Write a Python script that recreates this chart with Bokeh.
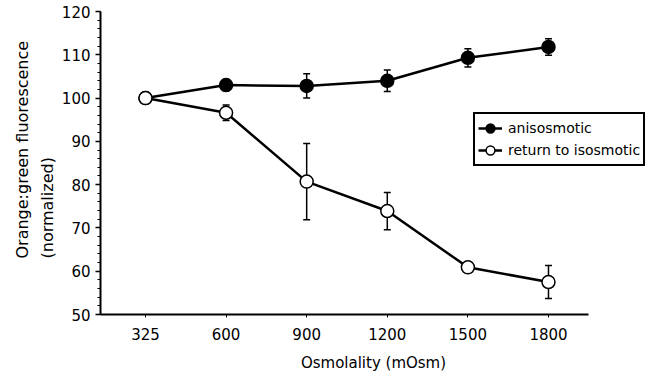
from bokeh.plotting import figure
from bokeh.models import (Range1d, FixedTicker, ColumnDataSource, Whisker, TeeHead,
                          Legend, LegendItem, Title)
from bokeh.embed import file_html
from bokeh.resources import INLINE

categories = ["325", "600", "900", "1200", "1500", "1800"]
aniso = [100, 103.0, 102.8, 104.0, 109.3, 111.8]
aniso_err = [0, 1.3, 2.8, 2.5, 2.1, 1.9]
iso = [100, 96.6, 80.7, 73.9, 60.9, 57.5]
iso_err = [0, 1.8, 8.8, 4.3, 0.8, 3.8]
y_ticks = [50, 60, 70, 80, 90, 100, 110, 120]

FONT = "DejaVu Sans"
xs = list(range(len(categories)))

p = figure(width=646, height=381, output_backend="svg", toolbar_location=None,
           x_range=Range1d(-0.558, 6.216), y_range=Range1d(50, 120),
           min_border_left=100, min_border_right=0, min_border_top=11, min_border_bottom=67)
p.grid.visible = False
p.outline_line_color = None
p.background_fill_color = "white"

a_src = ColumnDataSource(dict(x=xs, y=aniso,
                              lo=[v - e for v, e in zip(aniso, aniso_err)],
                              hi=[v + e for v, e in zip(aniso, aniso_err)]))
i_src = ColumnDataSource(dict(x=xs, y=iso,
                              lo=[v - e for v, e in zip(iso, iso_err)],
                              hi=[v + e for v, e in zip(iso, iso_err)]))

for src in (a_src, i_src):
    w = Whisker(base="x", lower="lo", upper="hi", source=src, line_color="black", line_width=1.5,
                lower_head=TeeHead(size=7, line_width=1.5, line_color="black"),
                upper_head=TeeHead(size=7, line_width=1.5, line_color="black"))
    p.add_layout(w)

a_line = p.line("x", "y", source=a_src, line_color="black", line_width=2.5)
i_line = p.line("x", "y", source=i_src, line_color="black", line_width=2.5)
a_pts = p.scatter("x", "y", source=a_src, marker="circle", size=13,
                  fill_color="black", line_color="black", line_width=1.5)
i_pts = p.scatter("x", "y", source=i_src, marker="circle", size=13,
                  fill_color="white", line_color="black", line_width=1.5)

# axes
xa = p.xaxis[0]
xa.ticker = FixedTicker(ticks=xs)
xa.bounds = (-0.558, 5.496)
xa.major_label_overrides = {i: c for i, c in enumerate(categories)}
xa.axis_line_width = 2
xa.axis_line_color = "black"
xa.major_tick_out = 3
xa.major_tick_in = 0
xa.minor_tick_line_color = None
xa.major_label_text_font = FONT
xa.major_label_text_font_size = "15px"
xa.major_label_text_color = "black"
xa.major_label_standoff = 10
xa.axis_label = "Osmolality (mOsm)"
xa.axis_label_text_font = FONT
xa.axis_label_text_font_size = "15px"
xa.axis_label_text_font_style = "normal"
xa.axis_label_text_color = "black"
xa.axis_label_standoff = 11

ya = p.yaxis[0]
ya.ticker = FixedTicker(ticks=y_ticks, minor_ticks=list(range(50, 121, 2)))
ya.axis_line_width = 2
ya.axis_line_color = "black"
ya.major_tick_out = 5
ya.major_tick_in = 0
ya.major_tick_line_width = 1.5
ya.minor_tick_out = 3
ya.minor_tick_in = 0
ya.minor_tick_line_color = "black"
ya.major_label_text_font = FONT
ya.major_label_text_font_size = "15px"
ya.major_label_text_color = "black"
ya.major_label_standoff = 5

for txt in ("(normalized)", "Orange:green fluorescence"):
    p.add_layout(Title(text=txt, align="left", offset=56, standoff=4,
                       text_font=FONT, text_font_size="16px", text_font_style="normal",
                       text_color="black"), "left")

legend = Legend(items=[LegendItem(label="anisosmotic", renderers=[a_line, a_pts]),
                       LegendItem(label="return to isosmotic", renderers=[i_line, i_pts])],
                location=(373, 148), orientation="vertical",
                border_line_color="black", border_line_width=2.5, border_line_alpha=1.0,
                padding=3, margin=0, spacing=0, glyph_width=24, label_height=21,
                glyph_height=22, label_standoff=6,
                label_text_font=FONT, label_text_font_size="14px", label_text_color="black",
                background_fill_alpha=1.0)
p.add_layout(legend, "center")

open("out.html", "w").write(file_html(p, INLINE))
